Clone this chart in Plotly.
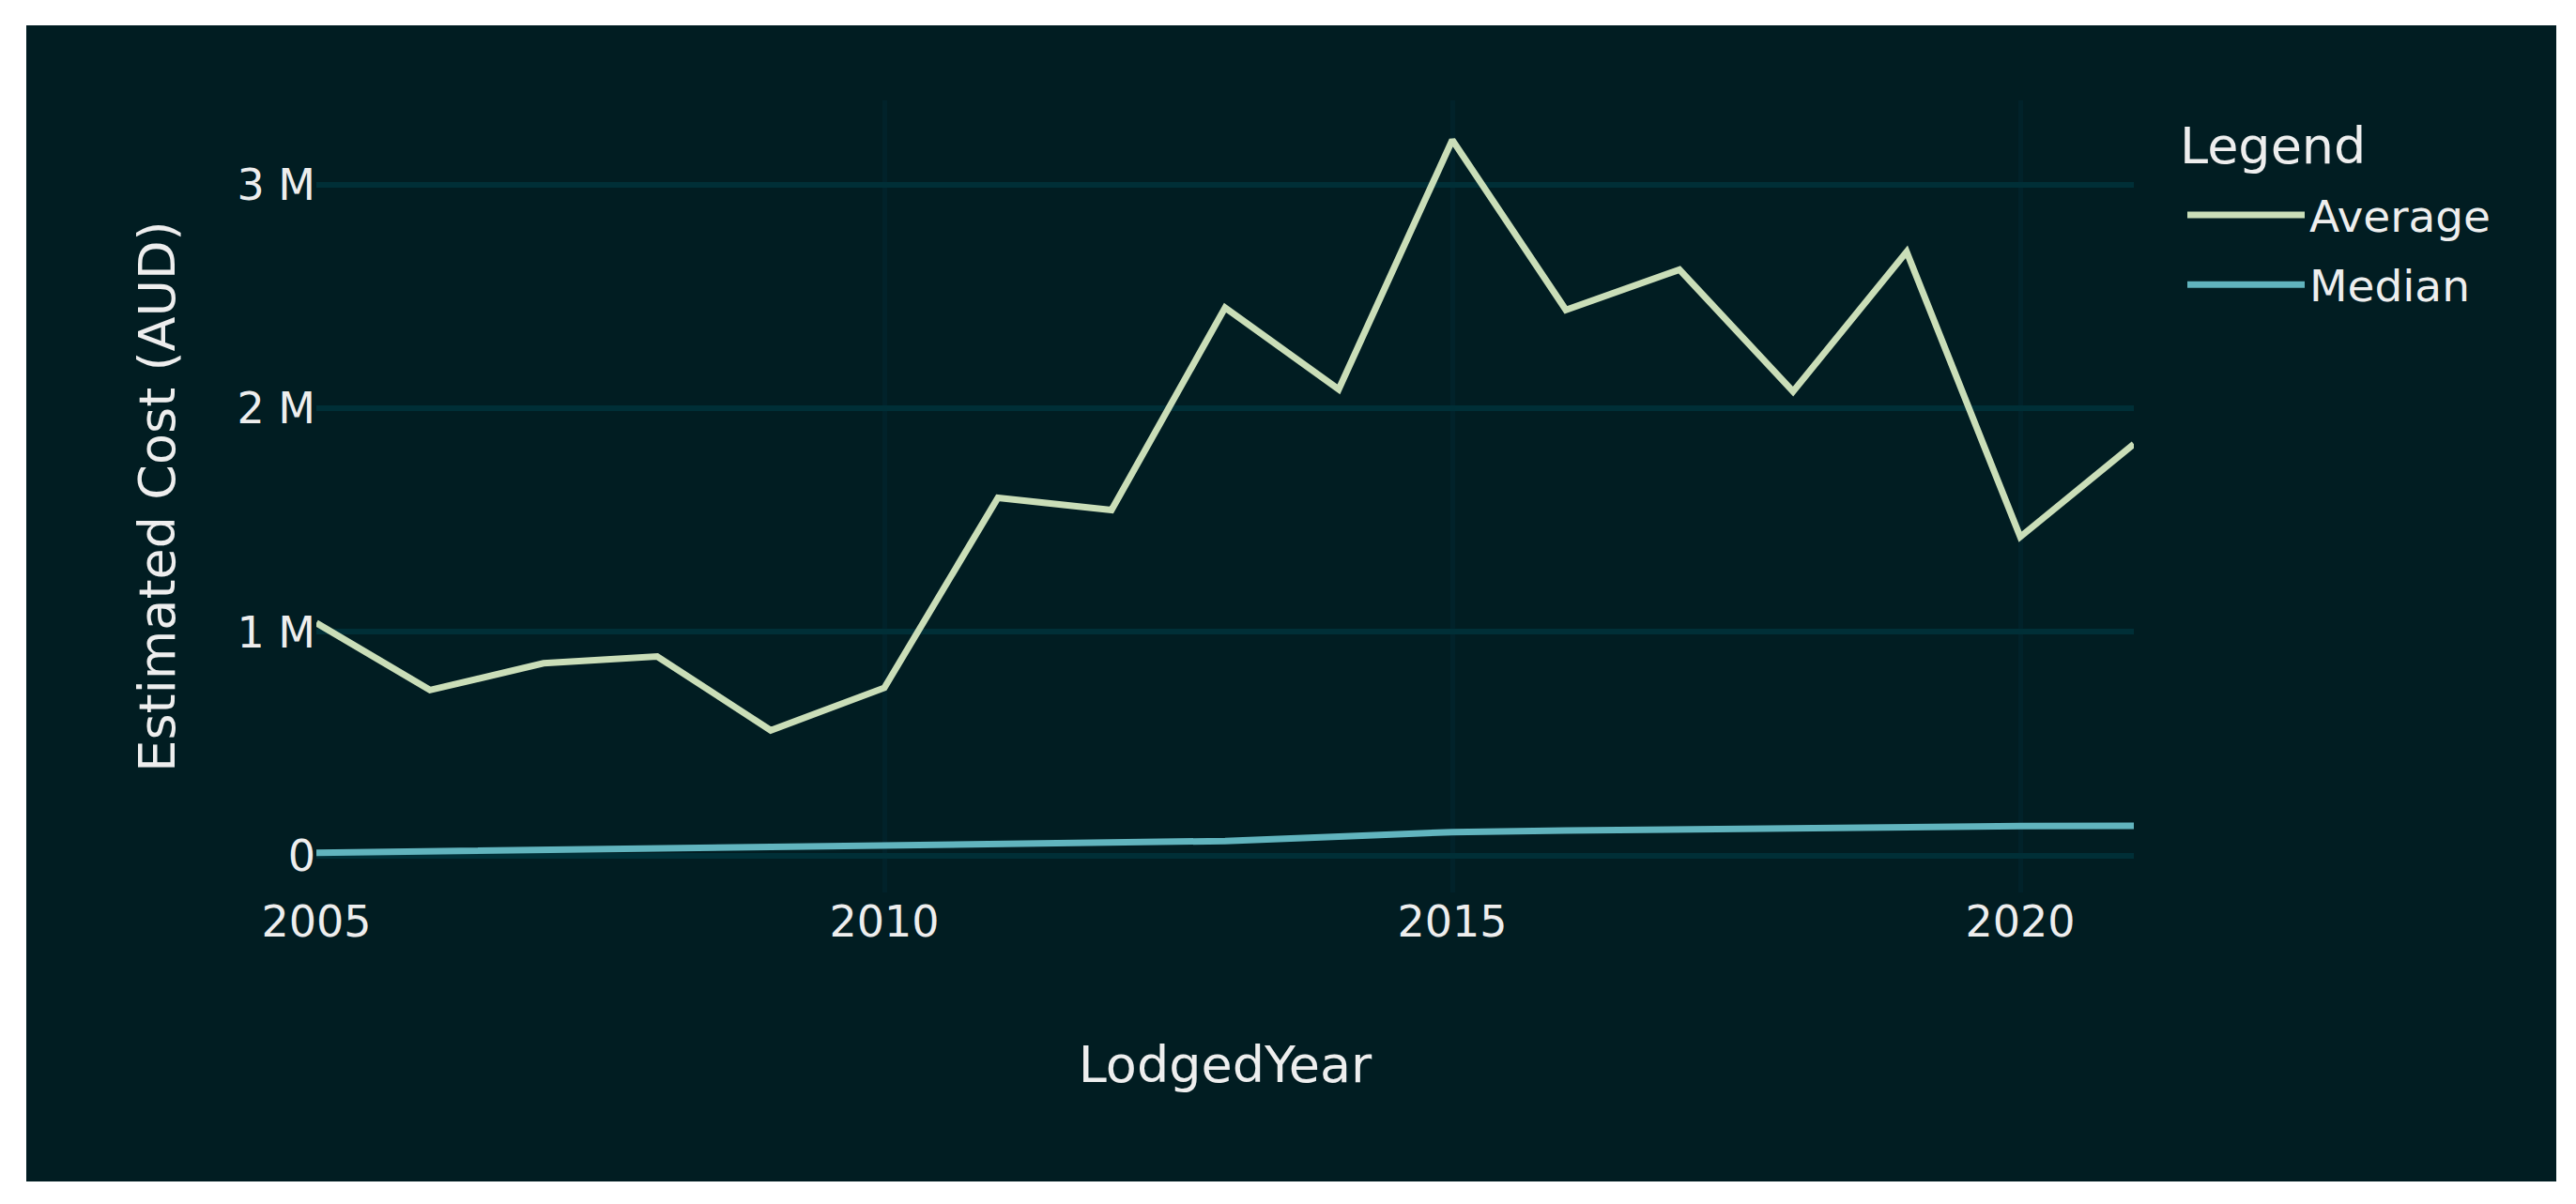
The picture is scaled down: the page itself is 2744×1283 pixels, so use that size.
import plotly.graph_objects as go

years = list(range(2005, 2022))
average_m = [1.04, 0.74, 0.86, 0.89, 0.56, 0.75, 1.60, 1.545, 2.45, 2.085, 3.20,
             2.44, 2.62, 2.075, 2.70, 1.425, 1.84]
median_m = [0.012, 0.018, 0.025, 0.032, 0.038, 0.045, 0.053, 0.058, 0.065, 0.085,
            0.105, 0.112, 0.118, 0.124, 0.128, 0.132, 0.133]
average = [v * 1e6 for v in average_m]
median = [v * 1e6 for v in median_m]

y_tickvals = [0, 1e6, 2e6, 3e6]
y_ticktext = ["0", "1 M", "2 M", "3 M"]

BG = "#011d22"
GRID = "#002f37"
VGRID = "#01222a"
TXT = "#eeeeee"
FONT = "DejaVu Sans"

W, H = 2728, 1266
L, R, T, B = 329, 463, 99, 323
pw, ph = W - L - R, H - T - B


def px_x(fx):
    return (fx - L) / pw


def px_y(fy):
    return (H - B - fy) / ph


fig = go.Figure()
fig.add_trace(go.Scatter(x=years, y=average, mode="lines", name="Average",
                         legendgroup="a",
                         line=dict(color="#cadeb8", width=7)))
fig.add_trace(go.Scatter(x=years, y=median, mode="lines", name="Median",
                         legendgroup="m",
                         line=dict(color="#61b4be", width=7)))

# dark panel behind the whole chart, white border around it
fig.add_shape(type="rect", xref="paper", yref="paper",
              x0=px_x(20), x1=px_x(2715), y0=px_y(1251), y1=px_y(19),
              fillcolor=BG, line=dict(width=0), layer="below")

# legend title
fig.add_annotation(text="Legend", xref="paper", yref="paper",
                   x=px_x(2312), y=px_y(148), xanchor="left", yanchor="middle",
                   showarrow=False, font=dict(family=FONT, size=54, color=TXT))

fig.update_layout(
    width=W, height=H,
    margin=dict(l=L, r=R, t=T, b=B, pad=0),
    paper_bgcolor="white",
    plot_bgcolor=BG,
    font=dict(family=FONT, size=46, color=TXT),
    legend=dict(
        font=dict(size=47, color=TXT),
        x=px_x(2317), xanchor="left",
        y=px_y(184), yanchor="top",
        bgcolor="rgba(0,0,0,0)",
        itemwidth=125,
        traceorder="grouped",
        tracegroupgap=10,
    ),
    xaxis=dict(
        range=[2005, 2021],
        tick0=2005, dtick=5,
        showgrid=True, gridcolor=VGRID, gridwidth=5,
        zeroline=False, showline=False,
        tickfont=dict(size=46, color=TXT),
        title=dict(text="LodgedYear", font=dict(size=54, color=TXT), standoff=107),
    ),
    yaxis=dict(
        range=[-0.165e6, 3.377e6],
        tickvals=y_tickvals, ticktext=y_ticktext,
        showgrid=True, gridcolor=GRID, gridwidth=6,
        zeroline=False, showline=False,
        tickfont=dict(size=46, color=TXT),
        title=dict(text="Estimated Cost (AUD)", font=dict(size=54, color=TXT), standoff=48),
    ),
)

fig.write_html("out.html")
